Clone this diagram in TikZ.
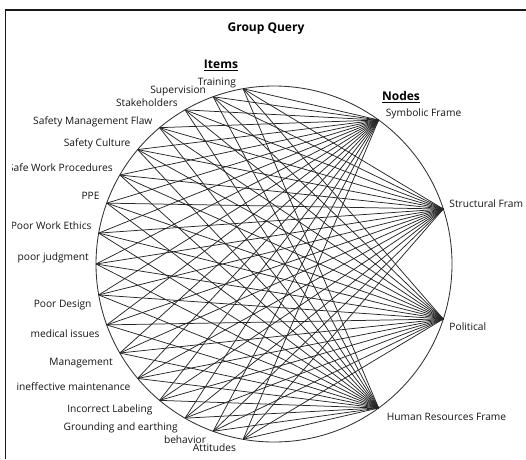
\documentclass[tikz,border=0pt]{standalone}
\usepackage{fontspec}
\setmainfont{Open Sans}
\usetikzlibrary{calc}
\begin{document}
\begin{tikzpicture}[x=1pt,y=1pt,
  frameline/.style={draw=black!90, line width=1.2pt},
  rim/.style={draw=black!80, line width=0.85pt},
  link/.style={draw=black!85, line width=0.75pt},
  lbl/.style={font=\fontsize{10.2}{12}\selectfont, inner sep=0pt, text=black!92},
  heading/.style={font=\bfseries\fontsize{12}{14}\selectfont, inner sep=0pt, text=black}]
\useasboundingbox (0,0) rectangle (526,-459);

% outer panel edge
\draw[frameline] (5.5,-459) -- (5.5,-10) -- (526,-10);

% headings
\node[heading] (title) at (266,-29) {Group Query};
\node[heading] (itemshead) at (221,-65) {\underline{Items}};
\node[heading] (nodeshead) at (401,-97) {\underline{Nodes}};

% ring
\coordinate (C) at (274,-264);
\draw[rim] (C) circle[radius=178];

% item points, 10 degrees apart from 100 to 260
\foreach \k in {1,...,17}{
  \pgfmathsetmacro\ang{90+10*\k}
  \coordinate (i\k) at ($(C)+(\ang:178)$);
}
% node points
\coordinate (n1) at ($(C)+(54:178)$);
\coordinate (n2) at ($(C)+(18:178)$);
\coordinate (n3) at ($(C)+(-18:178)$);
\coordinate (n4) at ($(C)+(-54:178)$);

% every item to every node
\foreach \k in {1,...,17}{
  \foreach \m in {1,...,4}{
    \draw[link] (i\k) -- (n\m);
  }
}

% item labels, clipped to the panel's inner area
\begin{scope}
\clip (12.5,0) rectangle (520,-459);
\foreach \lbl [count=\k] in {Training, Supervision, Stakeholders,
    Safety Management Flaw, Safety Culture, Safe Work Procedures, PPE,
    Poor Work Ethics, poor judgment}{
  \node[lbl, anchor=base east] (t\k) at ($(i\k)+(-7,3.5)$) {\lbl};
}
\foreach \lbl [count=\j] in {Poor Design, medical issues, Management,
    ineffective maintenance, Incorrect Labeling, Grounding and earthing,
    behavior, Attitudes}{
  \pgfmathtruncatemacro\k{\j+9}
  \node[lbl, anchor=base east] (t\k) at ($(i\k)+(-7,-12.5)$) {\lbl};
}
\end{scope}

% node labels
\node[lbl, anchor=base west] (s1) at ($(n1)+(7,3.5)$) {Symbolic Frame};
\node[lbl, anchor=base west] (s2) at ($(n2)+(6,1.5)$) {Structural Fram};
\node[lbl, anchor=base west] (s3) at ($(n3)+(6,-11.5)$) {Political};
\node[lbl, anchor=base west] (s4) at ($(n4)+(8,-12.5)$) {Human Resources Frame};
\end{tikzpicture}
\end{document}
